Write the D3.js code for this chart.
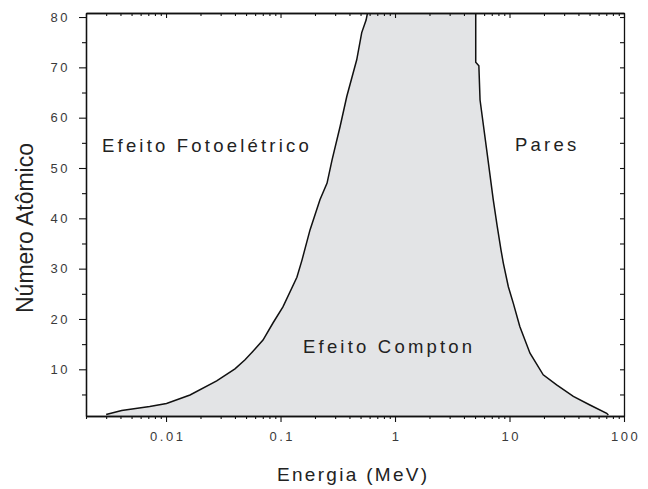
<!DOCTYPE html>
<html>
<head>
<meta charset="utf-8">
<script src="https://cdn.jsdelivr.net/npm/d3@7"></script>
<style>
  html, body { margin: 0; padding: 0; background: #fff; }
  svg { display: block; font-family: "Liberation Sans", Arial, sans-serif; }
</style>
</head>
<body>
<svg id="chart" width="648" height="489"></svg>
<script>
// ---- data ----
const leftE = [0.003, 0.0041, 0.0072, 0.0101, 0.0162, 0.0277, 0.040, 0.049, 0.0575, 0.0703, 0.0859, 0.105, 0.139, 0.154, 0.181, 0.221, 0.255, 0.282, 0.331, 0.379, 0.463, 0.512, 0.559, 0.575];
const leftZ = [1.0, 1.8, 2.6, 3.2, 4.9, 7.7, 10.1, 11.9, 13.6, 15.8, 19.2, 22.4, 28.3, 31.7, 37.7, 43.7, 47.0, 51.6, 58.2, 64.2, 71.5, 76.9, 79.4, 80.8];
const rightE = [5.07, 5.07, 5.4, 5.53, 6.32, 7.22, 7.8, 8.43, 8.83, 9.77, 10.8, 12.3, 15.1, 19.7, 25.8, 36.1, 50.4, 70.6, 73];
const rightZ = [80.8, 71.0, 70.3, 63.5, 53.6, 43.6, 38.5, 33.7, 31.1, 26.4, 23.1, 18.5, 13.2, 8.9, 6.9, 4.6, 2.9, 1.25, 0.9];

const xMajor = [0.01, 0.1, 1, 10, 100];
const xMajorLabels = ["0.01", "0.1", "1", "10", "100"];
const yMajor = [10, 20, 30, 40, 50, 60, 70, 80];
const yMinor = [5, 15, 25, 35, 45, 55, 65, 75];
const xDomain = [0.002, 100];
const yDomain = [0.72, 80.8];

const regionLabels = ["Efeito Fotoelétrico", "Pares", "Efeito Compton"];
const xTitle = "Energia (MeV)";
const yTitle = "Número Atômico";

// ---- layout ----
const L = 86, R = 624, T = 13, B = 416;
const svg = d3.select("#chart");
const x = d3.scaleLog().domain(xDomain).range([L, R]);
const y = d3.scaleLinear().domain(yDomain).range([B, T]);

// minor x ticks
const xMinor = [];
for (let d = 0.001; d < 100; d *= 10) {
  for (let k = 2; k <= 9; k++) {
    const v = +(k * d).toPrecision(3);
    if (v >= xDomain[0] && v <= xDomain[1]) xMinor.push(v);
  }
}

// ---- shaded region ----
const defs = svg.append("defs");
defs.append("clipPath").attr("id", "plotclip")
  .append("rect").attr("x", L).attr("y", T).attr("width", R - L).attr("height", B - T);

const leftPts = leftE.map((e, i) => [e, leftZ[i]]);
const rightPts = rightE.map((e, i) => [e, rightZ[i]]);
const poly = [[leftE[0], yDomain[0]]]
  .concat(leftPts)
  .concat(rightPts)
  .concat([[rightE[rightE.length - 1], yDomain[0]]]);

const line = d3.line().x(d => x(d[0])).y(d => y(d[1]));
const g = svg.append("g").attr("clip-path", "url(#plotclip)");
g.append("path").attr("d", line(poly) + "Z").attr("fill", "#e3e4e6").attr("stroke", "none");
g.append("path").attr("d", line(leftPts)).attr("fill", "none").attr("stroke", "#111").attr("stroke-width", 1.5);
g.append("path").attr("d", line(rightPts)).attr("fill", "none").attr("stroke", "#111").attr("stroke-width", 1.5);

// ---- axes ----
function styleAxis(sel) {
  sel.selectAll("path.domain").attr("stroke", "#111").attr("stroke-width", 1.3);
  sel.selectAll(".tick line").attr("stroke", "#111").attr("stroke-width", 1.1);
}
const tickFont = sel => sel.selectAll("text")
  .attr("fill", "#3a3a3a").style("font-size", "13px").style("letter-spacing", "2.5px");

// bottom
svg.append("g").attr("transform", `translate(0,${B})`)
  .call(d3.axisBottom(x).tickValues(xMinor).tickSize(3).tickFormat("").tickSizeOuter(0))
  .call(styleAxis);
svg.append("g").attr("transform", `translate(0,${B})`)
  .call(d3.axisBottom(x).tickValues(xMajor).tickSize(6).tickPadding(10)
        .tickFormat((d, i) => xMajorLabels[i]).tickSizeOuter(0))
  .call(styleAxis).call(tickFont)
  .call(s => s.selectAll("text").attr("dx", "1.2px"));

// top
svg.append("g").attr("transform", `translate(0,${T})`)
  .call(d3.axisTop(x).tickValues(xMinor).tickSize(-3).tickFormat("").tickSizeOuter(0))
  .call(styleAxis);
svg.append("g").attr("transform", `translate(0,${T})`)
  .call(d3.axisTop(x).tickValues(xMajor).tickSize(-5).tickFormat("").tickSizeOuter(0))
  .call(styleAxis);

// left
svg.append("g").attr("transform", `translate(${L},0)`)
  .call(d3.axisLeft(y).tickValues(yMinor).tickSize(4).tickFormat("").tickSizeOuter(0))
  .call(styleAxis);
svg.append("g").attr("transform", `translate(${L},0)`)
  .call(d3.axisLeft(y).tickValues(yMajor).tickSize(7).tickPadding(9).tickFormat(d3.format("d")).tickSizeOuter(0))
  .call(styleAxis).call(tickFont);

// right
svg.append("g").attr("transform", `translate(${R},0)`)
  .call(d3.axisRight(y).tickValues(yMajor.concat(yMinor)).tickSize(-4).tickFormat("").tickSizeOuter(0))
  .call(styleAxis);

// ---- titles ----
svg.append("text").attr("x", 277).attr("y", 481)
  .attr("fill", "#222").style("font-size", "19px").style("letter-spacing", "2.3px")
  .text(xTitle);
svg.append("text").attr("transform", `translate(33,228) rotate(-90)`)
  .attr("text-anchor", "middle").attr("fill", "#222").style("font-size", "23px")
  .text(yTitle);

// ---- region labels ----
const labelPos = [[102, 152], [515, 151], [303, 353]];
regionLabels.forEach((t, i) => {
  svg.append("text").attr("x", labelPos[i][0]).attr("y", labelPos[i][1])
    .attr("fill", "#222").style("font-size", "18.5px").style("letter-spacing", "3.2px")
    .text(t);
});
</script>
</body>
</html>
